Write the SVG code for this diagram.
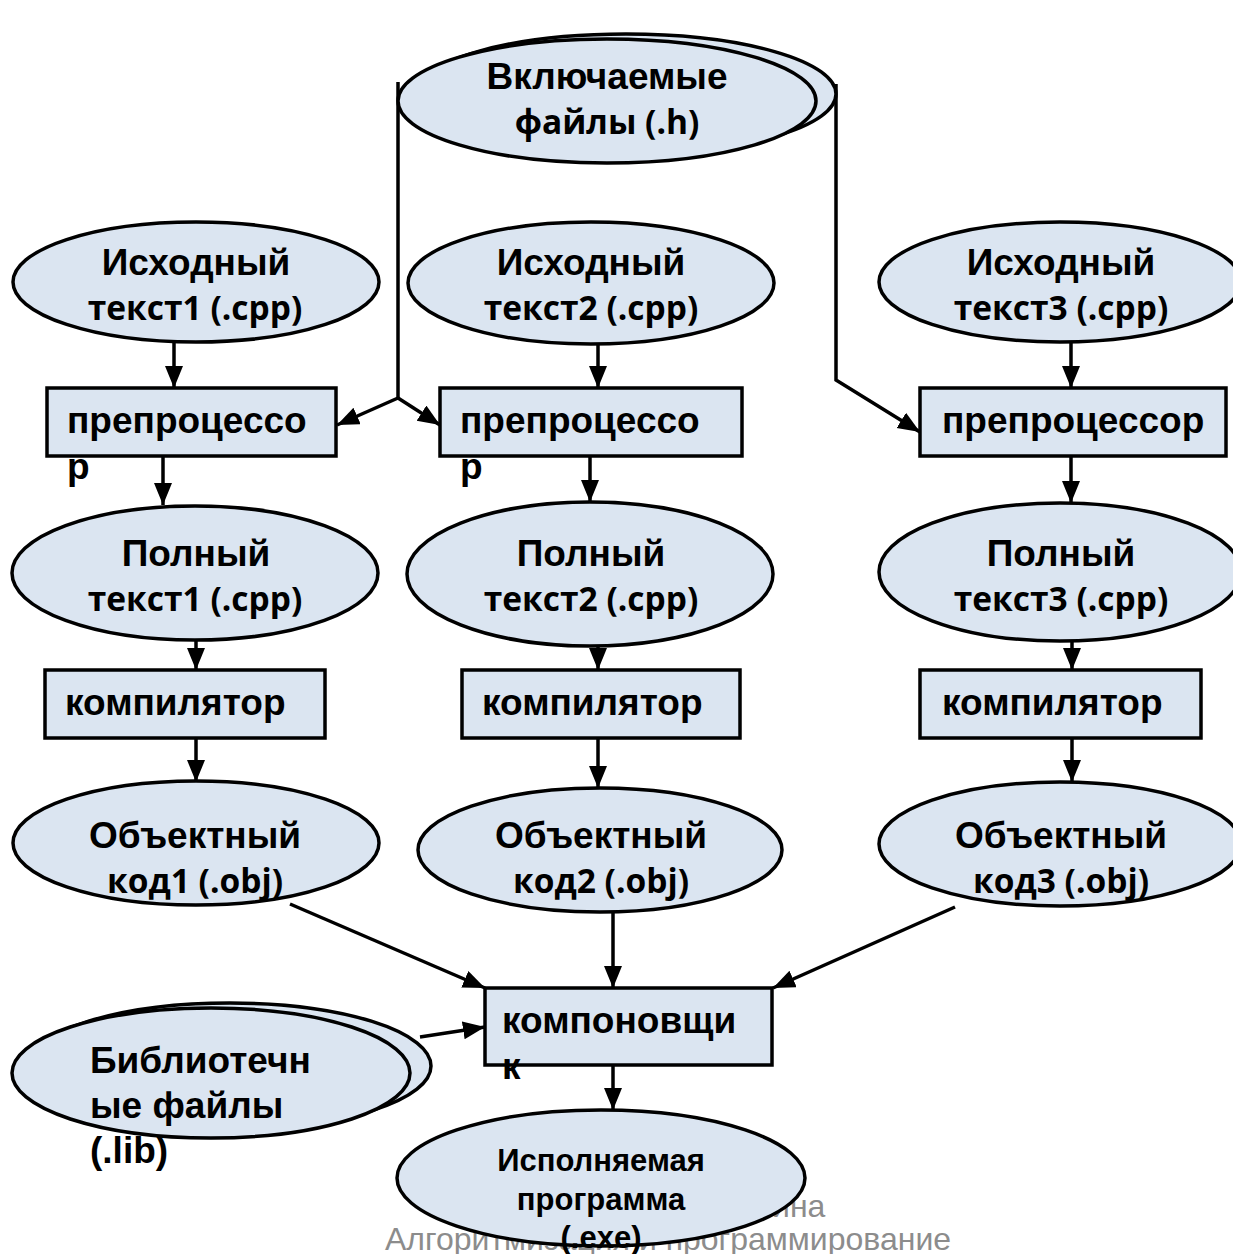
<svg xmlns="http://www.w3.org/2000/svg" width="1233" height="1254" viewBox="0 0 1233 1254">
<style>
.sh{fill:#dbe5f1;stroke:#000;stroke-width:3.5}
.a{font-family:"Liberation Sans",Arial,sans-serif;font-weight:bold;font-size:37px;fill:#000}
.c{font-family:"Open Sans","Noto Sans",sans-serif;font-weight:700;font-size:33.5px;fill:#000}
.m{text-anchor:middle}
.e{font-family:"Liberation Sans",Arial,sans-serif;font-weight:bold;font-size:31px;fill:#000;text-anchor:middle}
.f{font-family:"Liberation Sans",Arial,sans-serif;font-size:32px;fill:#8c8c8c}
.ln{fill:none;stroke:#000;stroke-width:3.5}
</style>
<defs>
<marker id="ar" markerUnits="userSpaceOnUse" markerWidth="24" markerHeight="20" refX="22" refY="9" orient="auto">
<path d="M0,0 L22,9 L0,18 z" fill="#000"/>
</marker>
</defs>
<rect width="1233" height="1254" fill="#fff"/>
<g id="footer">
<text class="f" x="772" y="1217">ина</text>
<text class="f" x="385" y="1250">Алгоритмизация и программирование</text>
</g>
<g id="connectors">
<path class="ln" d="M398,82 L398,398"/>
<path class="ln" d="M398,398 L337,425" marker-end="url(#ar)"/>
<path class="ln" d="M398,398 L440,425" marker-end="url(#ar)"/>
<path class="ln" d="M836,84 L836,380 L920,432" marker-end="url(#ar)"/>
<path class="ln" d="M174,342 L174,388" marker-end="url(#ar)"/>
<path class="ln" d="M598,344 L598,388" marker-end="url(#ar)"/>
<path class="ln" d="M1071,342 L1071,388" marker-end="url(#ar)"/>
<path class="ln" d="M163,456 L163,505" marker-end="url(#ar)"/>
<path class="ln" d="M590,456 L590,502" marker-end="url(#ar)"/>
<path class="ln" d="M1071,456 L1071,503" marker-end="url(#ar)"/>
<path class="ln" d="M196,640 L196,670" marker-end="url(#ar)"/>
<path class="ln" d="M598,646 L598,670" marker-end="url(#ar)"/>
<path class="ln" d="M1072,640 L1072,670" marker-end="url(#ar)"/>
<path class="ln" d="M196,738 L196,782" marker-end="url(#ar)"/>
<path class="ln" d="M598,738 L598,788" marker-end="url(#ar)"/>
<path class="ln" d="M1072,738 L1072,782" marker-end="url(#ar)"/>
<path class="ln" d="M290,904 L485,988" marker-end="url(#ar)"/>
<path class="ln" d="M613,912 L613,988" marker-end="url(#ar)"/>
<path class="ln" d="M955,907 L773,988" marker-end="url(#ar)"/>
<path class="ln" d="M420,1037 L485,1027" marker-end="url(#ar)"/>
<path class="ln" d="M613,1065 L613,1110" marker-end="url(#ar)"/>
</g>
<g id="include">
<ellipse class="sh" cx="626" cy="94" rx="210" ry="60"/>
<ellipse class="sh" cx="607" cy="101" rx="209" ry="62"/>
<text class="a m" x="607" y="89">Включаемые</text>
<text class="c m" x="607" y="134">файлы (.h)</text>
</g>
<g id="src1">
<ellipse class="sh" cx="196" cy="282" rx="183" ry="60"/>
<text class="a m" x="196" y="275">Исходный</text>
<text class="c m" x="195" y="320">текст1 (.cpp)</text>
</g>
<g id="src2">
<ellipse class="sh" cx="591" cy="283" rx="183" ry="61"/>
<text class="a m" x="591" y="275">Исходный</text>
<text class="c m" x="591" y="320">текст2 (.cpp)</text>
</g>
<g id="src3">
<ellipse class="sh" cx="1060" cy="282" rx="181" ry="60"/>
<text class="a m" x="1061" y="275">Исходный</text>
<text class="c m" x="1061" y="320">текст3 (.cpp)</text>
</g>
<g id="pre1">
<rect class="sh" x="47" y="388" width="289" height="68"/>
<text class="a" x="67" y="433">препроцессо</text>
<text class="a" x="67" y="479">р</text>
</g>
<g id="pre2">
<rect class="sh" x="440" y="388" width="302" height="68"/>
<text class="a" x="460" y="433">препроцессо</text>
<text class="a" x="460" y="479">р</text>
</g>
<g id="pre3">
<rect class="sh" x="920" y="388" width="306" height="68"/>
<text class="a" x="942" y="433">препроцессор</text>
</g>
<g id="full1">
<ellipse class="sh" cx="195" cy="573" rx="183" ry="67"/>
<text class="a m" x="196" y="566">Полный</text>
<text class="c m" x="195" y="611">текст1 (.cpp)</text>
</g>
<g id="full2">
<ellipse class="sh" cx="590" cy="574" rx="183" ry="72"/>
<text class="a m" x="591" y="566">Полный</text>
<text class="c m" x="591" y="611">текст2 (.cpp)</text>
</g>
<g id="full3">
<ellipse class="sh" cx="1060" cy="572" rx="181" ry="69"/>
<text class="a m" x="1061" y="566">Полный</text>
<text class="c m" x="1061" y="611">текст3 (.cpp)</text>
</g>
<g id="comp1">
<rect class="sh" x="45" y="670" width="280" height="68"/>
<text class="a" x="65" y="715">компилятор</text>
</g>
<g id="comp2">
<rect class="sh" x="462" y="670" width="278" height="68"/>
<text class="a" x="482" y="715">компилятор</text>
</g>
<g id="comp3">
<rect class="sh" x="920" y="670" width="281" height="68"/>
<text class="a" x="942" y="715">компилятор</text>
</g>
<g id="obj1">
<ellipse class="sh" cx="196" cy="843" rx="183" ry="62"/>
<text class="a m" x="195" y="848">Объектный</text>
<text class="c m" x="195" y="893">код1 (.obj)</text>
</g>
<g id="obj2">
<ellipse class="sh" cx="600" cy="850" rx="182" ry="62"/>
<text class="a m" x="601" y="848">Объектный</text>
<text class="c m" x="601" y="893">код2 (.obj)</text>
</g>
<g id="obj3">
<ellipse class="sh" cx="1060" cy="844" rx="181" ry="62"/>
<text class="a m" x="1061" y="848">Объектный</text>
<text class="c m" x="1061" y="893">код3 (.obj)</text>
</g>
<g id="linker">
<rect class="sh" x="485" y="988" width="287" height="77"/>
<text class="a" x="502" y="1033">компоновщи</text>
<text class="a" x="502" y="1079">к</text>
</g>
<g id="lib">
<ellipse class="sh" cx="230" cy="1066" rx="201" ry="63"/>
<ellipse class="sh" cx="211" cy="1073" rx="199" ry="65"/>
<text class="a" x="90" y="1073">Библиотечн</text>
<text class="a" x="90" y="1118">ые файлы</text>
<text class="a" x="90" y="1163">(.lib)</text>
</g>
<g id="exe">
<ellipse class="sh" cx="601" cy="1178" rx="204" ry="68"/>
<text class="e" x="601" y="1171">Исполняемая</text>
<text class="e" x="601" y="1210">программа</text>
<text class="e" x="601" y="1248">(.exe)</text>
</g>
</svg>
